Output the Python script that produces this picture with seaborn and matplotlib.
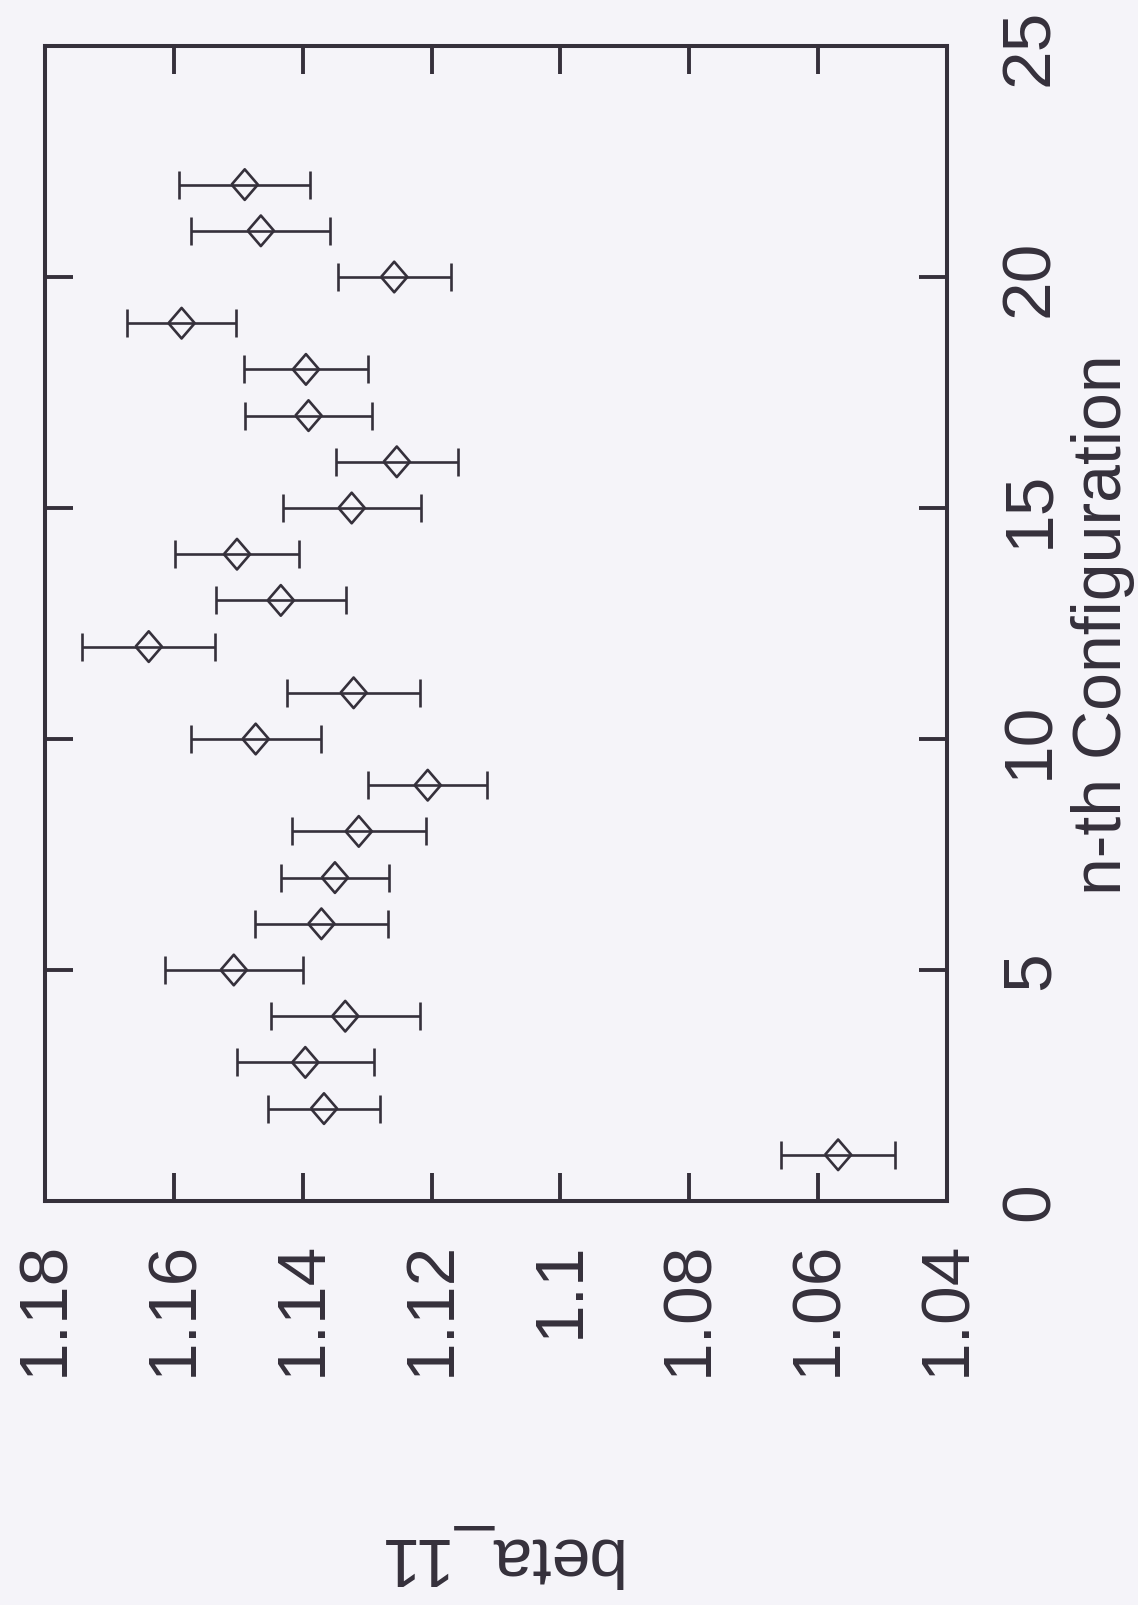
import numpy as np
import pandas as pd
import matplotlib
matplotlib.use('Agg')
import matplotlib.pyplot as plt
import seaborn as sns

# 数据 (读取自原图)
config = [1, 2, 3, 4, 5, 6, 7, 8, 9, 10, 11,
          12, 13, 14, 15, 16, 17, 18, 19, 20, 21, 22]
beta_11 = [1.0569, 1.1367, 1.1396, 1.1334, 1.1507, 1.1371, 1.1350, 1.1313, 1.1206, 1.1473, 1.1321,
           1.1639, 1.1434, 1.1502, 1.1324, 1.1254, 1.1391, 1.1395, 1.1588, 1.1258, 1.1465, 1.1490]
beta_err = [0.0088, 0.0087, 0.0106, 0.0116, 0.0107, 0.0103, 0.0084, 0.0104, 0.0092, 0.0101, 0.0103,
            0.0103, 0.0101, 0.0096, 0.0107, 0.0095, 0.0099, 0.0096, 0.0084, 0.0088, 0.0108, 0.0102]

beta_ticks = [1.18, 1.16, 1.14, 1.12, 1.10, 1.08, 1.06, 1.04]
beta_ticklabels = ['1.18', '1.16', '1.14', '1.12', '1.1', '1.08', '1.06', '1.04']
config_ticks = [0, 5, 10, 15, 20, 25]

df = pd.DataFrame({'config': config, 'beta': beta_11, 'err': beta_err})

BG = '#f5f4f9'
INK = '#35303b'

sns.set_style('white')
plt.rcParams['font.family'] = ['Liberation Sans', 'DejaVu Sans']

fig = plt.figure(figsize=(11.38, 16.06), dpi=100, facecolor=BG)
ax = fig.add_axes([45/1138, 1 - 1202/1606, 902/1138, 1155/1606])
ax.set_facecolor(BG)

# 整张图旋转了90度: beta 在横轴(反向), 配置号在纵轴
ax.errorbar(df['beta'], df['config'], xerr=df['err'], fmt='none',
            ecolor=INK, elinewidth=1.9, capsize=10, capthick=1.9, zorder=2)

diamond = [(-0.86, 0), (0, 1), (0.86, 0), (0, -1), (-0.86, 0)]
sns.scatterplot(data=df, x='beta', y='config', ax=ax, marker=diamond, s=22**2,
                facecolor='none', edgecolor=INK, linewidth=1.9, zorder=3, legend=False)

ax.set_xlim(1.18, 1.04)
ax.set_ylim(0, 25)
ax.set_xticks(beta_ticks)
ax.set_xticklabels(beta_ticklabels)
ax.set_yticks(config_ticks)

for sp in ax.spines.values():
    sp.set_color(INK)
    sp.set_linewidth(2.9)

ax.tick_params(axis='both', direction='in', length=20, width=2.8, color=INK,
               labelsize=50, labelcolor=INK)
ax.tick_params(axis='x', top=True, bottom=True, labeltop=False, labelbottom=True,
               labelrotation=90, pad=28)
ax.tick_params(axis='y', left=True, right=True, labelleft=False, labelright=True,
               labelrotation=90, pad=37)
for lbl in ax.get_yticklabels():
    lbl.set_va('center')
    lbl.set_ha('left')

ax.set_xlabel('beta_11', fontsize=50, color=INK, rotation=180)
ax.xaxis.set_label_coords(0.5, -0.279)
ax.set_ylabel('n-th Configuration', fontsize=49, color=INK)
ax.yaxis.set_label_position('right')
ax.yaxis.set_label_coords(1.137, 0.5)

fig.savefig('out.png', dpi=100, facecolor=BG)
